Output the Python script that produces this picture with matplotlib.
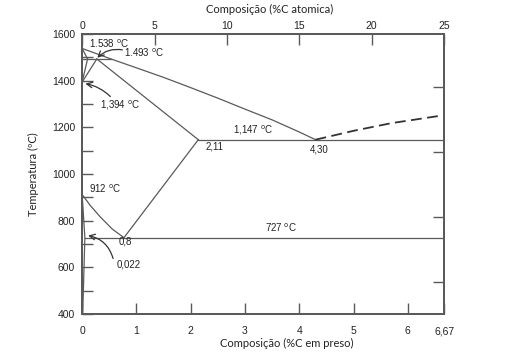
import matplotlib
matplotlib.use("Agg")
from matplotlib import pyplot as plt

## Data (wt% C, temperature in C)
liquidus_wt = [0.0, 0.53, 1.0, 1.5, 2.0, 2.5, 3.0, 3.5, 4.0, 4.30]
liquidus_t = [1538, 1493, 1455, 1414, 1370, 1325, 1278, 1232, 1180, 1147]
cementite_liq_wt = [4.30, 5.0, 5.7, 6.67]
cementite_liq_t = [1147, 1185, 1218, 1252]
delta_solidus_wt = [0.0, 0.10]
delta_solidus_t = [1538, 1493]
peritectic_wt = [0.0, 0.53]
peritectic_t = [1493, 1493]
delta_gamma_wt = [0.10, 0.0]
delta_gamma_t = [1493, 1394]
gamma_delta_wt = [0.27, 0.0]
gamma_delta_t = [1493, 1394]
gamma_solidus_wt = [0.27, 2.14]
gamma_solidus_t = [1493, 1147]
eutectic_wt = [2.14, 6.67]
eutectic_t = [1147, 1147]
a3_wt = [0.0, 0.15, 0.33, 0.55, 0.77]
a3_t = [912, 865, 817, 765, 727]
acm_wt = [0.77, 2.14]
acm_t = [727, 1147]
eutectoid_wt = [0.05, 6.67]
eutectoid_t = [727, 727]
ferrite_wt = [0.0, 0.05, 0.01]
ferrite_t = [912, 727, 400]

bottom_ticks = [0, 1, 2, 3, 4, 5, 6, 6.67]
bottom_labels = ["0", "1", "2", "3", "4", "5", "6", "6,67"]
top_ticks = [0, 5, 10, 15, 20, 25]
left_ticks = [400, 600, 800, 1000, 1200, 1400, 1600]
fahrenheit_ticks = [1000, 1500, 2000, 2500]

LINE = "#5a5a5a"
TEXT = "#222222"
plt.rcParams["font.family"] = ["Liberation Sans", "DejaVu Sans"]

fig = plt.figure(figsize=(5.30, 3.54), dpi=100)
ax = fig.add_axes([0.155, 0.113, 0.683, 0.791])

# Phase boundaries
kw = dict(color=LINE, lw=0.9)
for xs, ys in [(liquidus_wt, liquidus_t), (delta_solidus_wt, delta_solidus_t),
               (peritectic_wt, peritectic_t), (delta_gamma_wt, delta_gamma_t),
               (gamma_delta_wt, gamma_delta_t), (gamma_solidus_wt, gamma_solidus_t),
               (eutectic_wt, eutectic_t), (a3_wt, a3_t), (acm_wt, acm_t),
               (eutectoid_wt, eutectoid_t), (ferrite_wt, ferrite_t)]:
    ax.plot(xs, ys, **kw)
ax.plot(cementite_liq_wt, cementite_liq_t, color="#333333", lw=1.3, ls=(0, (6, 3)))

ax.set_xlim(0, 6.67)
ax.set_ylim(400, 1600)

# Ticks
ax.set_xticks(bottom_ticks)
ax.set_xticklabels(bottom_labels)
ax.set_yticks(left_ticks)
ax.set_yticks(range(500, 1600, 200), minor=True)
ax.tick_params(axis="x", direction="in", length=8, width=1, color=LINE,
               labelsize=7.5, labelcolor=TEXT, pad=9)
ax.tick_params(axis="y", which="both", direction="in", length=8, width=1,
               color=LINE, labelsize=7.5, labelcolor=TEXT, pad=5)
for s in ax.spines.values():
    s.set_color(LINE)
    s.set_linewidth(1.2)

# right axis: Fahrenheit ticks, no labels
axr = ax.twinx()
axr.set_ylim(400, 1600)
axr.set_yticks([(f - 32) / 1.8 for f in fahrenheit_ticks])
axr.set_yticklabels([])
axr.tick_params(axis="y", direction="in", length=8, width=1, color=LINE)

# top axis: atomic percent
axt = ax.twiny()
axt.set_xlim(0, 25)
axt.set_xticks(top_ticks)
axt.tick_params(axis="x", direction="in", length=8, width=1, color=LINE,
                labelsize=7.5, labelcolor=TEXT, pad=2)
for a in (axr, axt):
    for s in a.spines.values():
        s.set_color(LINE)
        s.set_linewidth(1.2)

label_font = dict(family=["Lato", "DejaVu Sans"], fontsize=8, color=TEXT)
ax.set_xlabel("Composição (%C em preso)", **label_font)
axt.set_xlabel("Composição (%C atomica)", **label_font)
ax.set_ylabel("Temperatura (ºC)", **label_font)
ax.xaxis.set_label_coords(0.564, -0.085)
axt.xaxis.set_label_coords(0.519, 1.076)
ax.yaxis.set_label_coords(-0.12, 0.5)

# Annotations
tk = dict(fontsize=7, color=TEXT, va="center")
ax.text(0.13, 1557, "1.538 $^{\\rm o}$C", **tk)
ax.text(0.77, 1519, "1.493 $^{\\rm o}$C", **tk)
ax.text(0.33, 1294, "1,394 $^{\\rm o}$C", **tk)
ax.text(2.78, 1187, "1,147 $^{\\rm o}$C", **tk)
ax.text(2.28, 1119, "2,11", **tk)
ax.text(4.20, 1106, "4,30", **tk)
ax.text(0.13, 936, "912 $^{\\rm o}$C", **tk)
ax.text(0.68, 711, "0,8", **tk)
ax.text(0.63, 613, "0,022", **tk)
ax.text(3.37, 770, "727 $^{\\rm o}$C", **tk)

arrow = dict(arrowstyle="->", color="#333333", lw=0.9, shrinkA=0, shrinkB=0)
ax.annotate("", xy=(0.28, 1498), xytext=(0.74, 1532),
            arrowprops=dict(connectionstyle="arc3,rad=0.25", **arrow))
ax.annotate("", xy=(0.06, 1387), xytext=(0.52, 1332),
            arrowprops=dict(connectionstyle="arc3,rad=0.15", **arrow))
ax.annotate("", xy=(0.11, 736), xytext=(0.57, 638),
            arrowprops=dict(connectionstyle="arc3,rad=0.3", **arrow))

plt.savefig("out.png", dpi=100)
